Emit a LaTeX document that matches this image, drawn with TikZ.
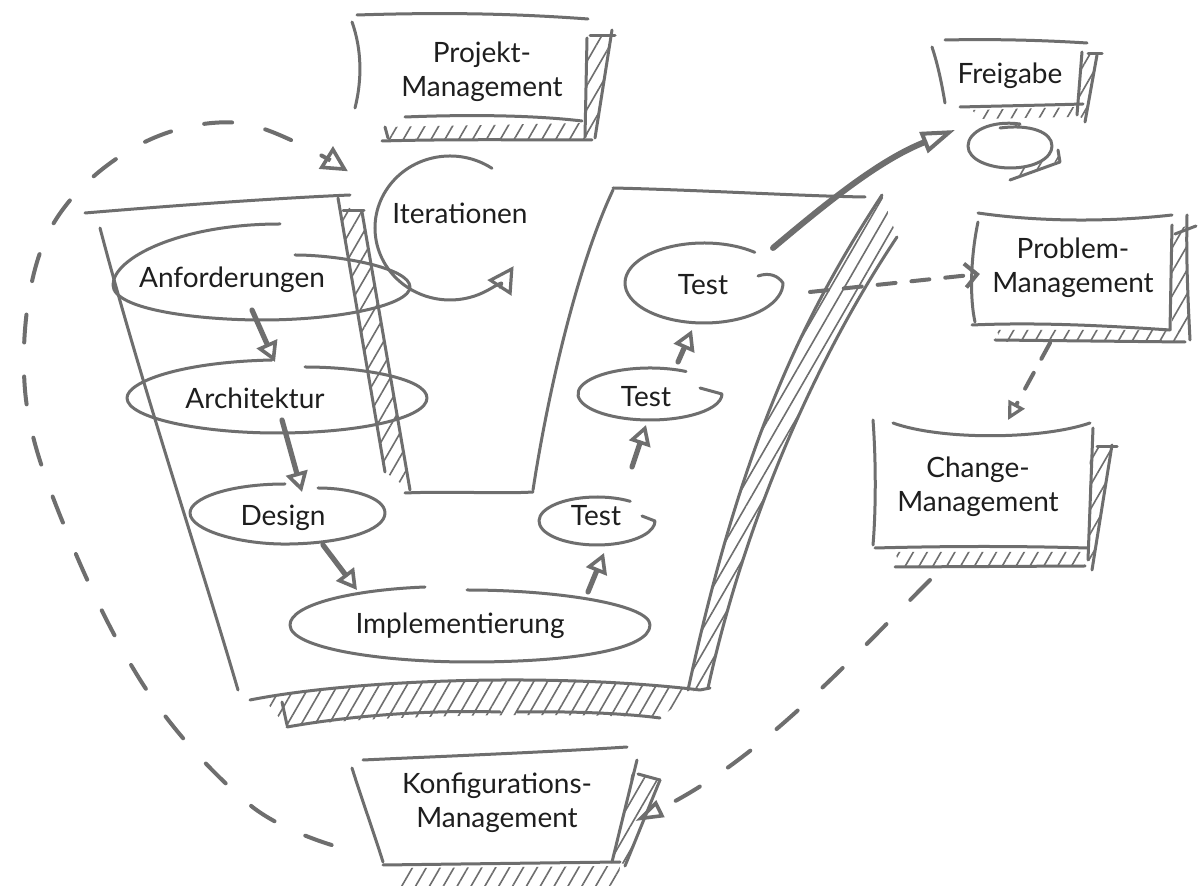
\documentclass[tikz,border=0pt]{standalone}
\usepackage{fontspec}
\setmainfont{Lato}
\usetikzlibrary{arrows.meta,patterns.meta,calc}
\definecolor{ink}{HTML}{6E6E6E}
\definecolor{txt}{HTML}{1E1E1E}
\begin{document}
\begin{tikzpicture}[x=0.5pt,y=-0.5pt,
  sk/.style={draw=ink,line width=1.5pt,line cap=round,line join=round},
  lbl/.style={text=txt,font=\fontsize{14}{17}\selectfont,align=center,inner sep=0pt},
  harr/.style={draw=ink,line width=2.6pt,line cap=round,-{Triangle[open,length=10pt,width=11pt,line width=1.8pt]}},
  bigarr/.style={draw=ink,line width=3pt,line cap=round,-{Triangle[open,length=17pt,width=11pt,line width=2pt]}},
  hatch/.style={pattern={Lines[angle=60,distance=6pt,line width=0.8pt]},pattern color=ink},
  dsh/.style={draw=ink,line width=2pt,line cap=round,dash pattern=on 14pt off 17pt},
  sdsh/.style={draw=ink,line width=2pt,line cap=round,dash pattern=on 9pt off 8pt}]
\useasboundingbox (0,0) rectangle (1200,886);
\fill[white] (0,0) rectangle (1200,886);

% ---------- text nodes ----------
\node[lbl] (pm)   at (482,72)  {Projekt-\\Management};
\node[lbl] (fg)   at (1010,76) {Freigabe};
\node[lbl] (prob) at (1073,268) {Problem-\\Management};
\node[lbl] (chg)  at (978,487) {Change-\\Management};
\node[lbl] (konf) at (497,803) {Konfigurations-\\Management};
\node[lbl] (iter) at (460,213) {Iterationen};
\node[lbl] (anf)  at (232,280) {Anforderungen};
\node[lbl] (arch) at (255,398) {Architektur};
\node[lbl] (des)  at (283,518) {Design};
\node[lbl] (impl) at (460,626) {Implementierung};
\node[lbl] (tb)   at (596,516) {Test};
\node[lbl] (tm)   at (646,397) {Test};
\node[lbl] (tt)   at (703,285) {Test};

% ---------- funnel ----------
\draw[sk] (85,213) .. controls (180,205) and (280,198) .. (350,195);
\draw[sk] (100,228) .. controls (140,380) and (200,560) .. (238,690);
\fill[hatch] (340,205) -- (362,212) -- (410,490) -- (385,472) -- cycle;
\draw[sk] (338,198) -- (385,472);
\draw[sk] (362,212) -- (410,490);
\draw[sk] (343,211) -- (364,211);
\draw[sk] (405,493) .. controls (450,491) and (500,494) .. (533,492);
\draw[sk] (533,490) .. controls (550,380) and (580,260) .. (613,190);
\draw[sk] (613,188) .. controls (700,190) and (800,196) .. (865,197);
\fill[hatch] (882,195) .. controls (800,320) and (740,450) .. (688,690) -- (708,688) .. controls (745,520) and (815,360) .. (897,237) -- cycle;
\draw[sk] (882,195) .. controls (800,320) and (740,450) .. (688,690);
\draw[sk] (897,237) .. controls (815,360) and (745,520) .. (708,688);
\fill[hatch] (262,697) .. controls (350,680) and (550,672) .. (695,690) -- (660,718) .. controls (600,714) and (400,712) .. (287,727) -- cycle;
\draw[sk] (250,700) .. controls (350,680) and (550,672) .. (700,690) -- (710,688);
\draw[sk] (287,727) .. controls (360,714) and (440,710) .. (500,712);
\draw[sk] (517,712) .. controls (580,711) and (630,714) .. (660,718);
\draw[sk] (282,702) -- (287,725);

% ---------- ellipses ----------
\draw[sk] (280,224) .. controls (180,224) and (113,258) .. (113,285) .. controls (113,310) and (200,320) .. (262,320) .. controls (340,320) and (410,305) .. (410,287) .. controls (410,268) and (340,255) .. (295,255);
\draw[sk] (272,360) .. controls (180,362) and (127,382) .. (127,398) .. controls (127,418) and (200,433) .. (277,433) .. controls (360,433) and (427,418) .. (427,398) .. controls (427,378) and (360,367) .. (305,367);
\draw[sk] (285,484) .. controls (230,484) and (190,498) .. (190,513) .. controls (190,530) and (240,545) .. (290,544) .. controls (345,543) and (385,530) .. (385,513) .. controls (385,497) and (350,488) .. (318,488);
\draw[sk] (425,587) .. controls (350,590) and (290,605) .. (290,625) .. controls (290,648) and (380,662) .. (470,662) .. controls (570,662) and (650,650) .. (650,625) .. controls (650,605) and (560,590) .. (467,590);
\draw[sk] (597,521) ++(-55:58 and 24) arc[start angle=-55, end angle=-360, x radius=58, y radius=24] -- (642,516);
\draw[sk] (650,394) ++(-60:72 and 26) arc[start angle=-60, end angle=-360, x radius=72, y radius=26] -- (700,388);
\draw[sk] (704,283) ++(-50:79 and 40) arc[start angle=-50, end angle=-360, x radius=79, y radius=40] .. controls (778,276) and (770,272) .. (758,276);

% ---------- iterations ----------
\draw[sk,-{Triangle[open,length=13pt,width=14pt,line width=1.6pt]}] (450,228) ++(-56:75 and 72) arc[start angle=-56, end angle=-328, x radius=75, y radius=72];

% ---------- process arrows ----------
\draw[harr] ($(anf)+(20,30)$) -- ($(arch)+(20,-36)$);
\draw[harr] ($(arch)+(27,22)$) -- ($(des)+(19,-26)$);
\draw[harr] ($(des)+(40,27)$) -- ($(impl)+(-103,-36)$);
\draw[harr] ($(impl)+(128,-34)$) -- ($(tb)+(8,37)$);
\draw[harr] ($(tb)+(36,-49)$) -- ($(tm)+(0,28)$);
\draw[harr] ($(tm)+(32,-35)$) -- ($(tt)+(-11,45)$);

% ---------- Projekt-Management box ----------
\draw[sk] (357,15) .. controls (450,12) and (520,14) .. (588,19);
\draw[sk] (352,22) .. controls (362,50) and (362,80) .. (355,108);
\draw[sk] (405,117) .. controls (480,114) and (540,116) .. (582,121);
\fill[hatch] (587,38) -- (610,33) -- (595,137) -- (585,137) -- cycle;
\draw[sk] (587,38) -- (585,137);
\draw[sk] (612,30) -- (595,138);
\draw[sk] (590,36) -- (615,36);
\fill[hatch] (385,127) -- (585,123) -- (590,140) -- (382,140) -- cycle;
\draw[sk] (382,141) .. controls (450,139) and (530,140) .. (592,140);
\draw[sk] (385,127) -- (388,138);

% ---------- Freigabe box ----------
\draw[sk] (945,40) .. controls (990,39) and (1040,40) .. (1087,43);
\draw[sk] (932,47) .. controls (938,65) and (942,85) .. (945,103);
\draw[sk] (960,107) .. controls (1000,106) and (1050,105) .. (1083,104);
\fill[hatch] (1080,55) -- (1097,55) -- (1085,120) -- (1077,115) -- cycle;
\draw[sk] (1082,52) -- (1077,115);
\draw[sk] (1097,55) -- (1085,122);
\draw[sk] (1088,54) -- (1102,54);
\fill[hatch] (972,110) -- (1078,107) -- (1070,117) -- (980,119) -- cycle;
\draw[sk] (1020,124) .. controls (990,120) and (968,132) .. (968,146) .. controls (968,160) and (990,168) .. (1010,168) .. controls (1035,168) and (1052,158) .. (1052,146) .. controls (1052,132) and (1030,124) .. (1000,128);
\fill[hatch] (1010,172) -- (1048,160) -- (1058,150) -- (1060,160) -- (1012,180) -- cycle;
\draw[sk] (1058,150) -- (1060,162) -- (1010,180);

% ---------- Problem-Management box ----------
\draw[sk] (978,213) .. controls (1040,222) and (1110,222) .. (1172,215);
\draw[sk] (978,222) .. controls (970,260) and (970,300) .. (975,322);
\draw[sk] (972,325) .. controls (1040,322) and (1110,326) .. (1170,330);
\fill[hatch] (1172,232) -- (1186,226) -- (1190,335) -- (1172,330) -- cycle;
\draw[sk] (1172,225) -- (1170,330);
\draw[sk] (1187,215) .. controls (1186,260) and (1188,300) .. (1190,340);
\draw[sk] (1175,234) -- (1196,226);
\fill[hatch] (997,330) -- (1183,330) -- (1185,342) -- (1000,342) -- cycle;
\draw[sk] (995,340) -- (1185,342);

% ---------- Change-Management box ----------
\draw[sk] (893,423) .. controls (940,440) and (1040,440) .. (1090,423);
\draw[sk] (873,420) .. controls (876,460) and (876,510) .. (873,545);
\draw[sk] (875,548) .. controls (950,546) and (1020,546) .. (1087,548);
\fill[hatch] (1090,447) -- (1112,447) -- (1094,565) -- (1088,560) -- cycle;
\draw[sk] (1093,428) -- (1088,560);
\draw[sk] (1112,445) -- (1092,570);
\draw[sk] (1097,447) -- (1117,447);
\fill[hatch] (895,552) -- (1085,552) -- (1083,566) -- (900,566) -- cycle;
\draw[sk] (895,567) -- (1085,566);

% ---------- Konfigurations-Management box ----------
\draw[sk] (363,760) .. controls (450,756) and (550,752) .. (627,747);
\draw[sk] (352,768) .. controls (362,800) and (373,830) .. (383,862);
\draw[sk] (383,865) .. controls (460,864) and (540,863) .. (620,862);
\fill[hatch] (632,772) -- (658,780) -- (625,864) -- (612,862) -- cycle;
\draw[sk] (637,760) -- (612,862);
\draw[sk] (660,780) -- (625,866);
\draw[sk] (638,774) -- (660,780);
\fill[hatch] (405,868) -- (620,866) -- (618,886) -- (400,886) -- cycle;

% ---------- connectors between boxes ----------
\draw[bigarr] ($(tt)+(70,-37)$) .. controls (830,200) and (880,160) .. ($(fg)+(-55,54)$);
\draw[sdsh,-{Straight Barb[length=6pt,width=12pt,line width=2pt]}] ($(tt)+(107,7)$) -- ($(prob.west)+(-12,6)$);
\draw[sdsh,-{Triangle[open,length=9pt,width=9pt,line width=1.6pt]}] ($(prob)+(-23,75)$) -- ($(chg)+(30,-67)$);
\draw[dsh,-{Triangle[open,length=14pt,width=9pt,line width=1.8pt]}] ($(chg)+(-48,93)$) .. controls (850,660) and (760,760) .. ($(konf.east)+(43,18)$);

\coordinate (loopS) at ($(konf.west)+(-70,42)$);
\coordinate (loopE) at ($(pm.south west)+(-53,69)$);
\draw[dsh,-{Triangle[open,length=13pt,width=13pt,line width=1.8pt]}] plot[smooth,tension=0.6] coordinates {(loopS) (250,805) (150,695) (70,540) (25,390) (45,240) (130,150) (240,123) (loopE)};
\end{tikzpicture}
\end{document}
